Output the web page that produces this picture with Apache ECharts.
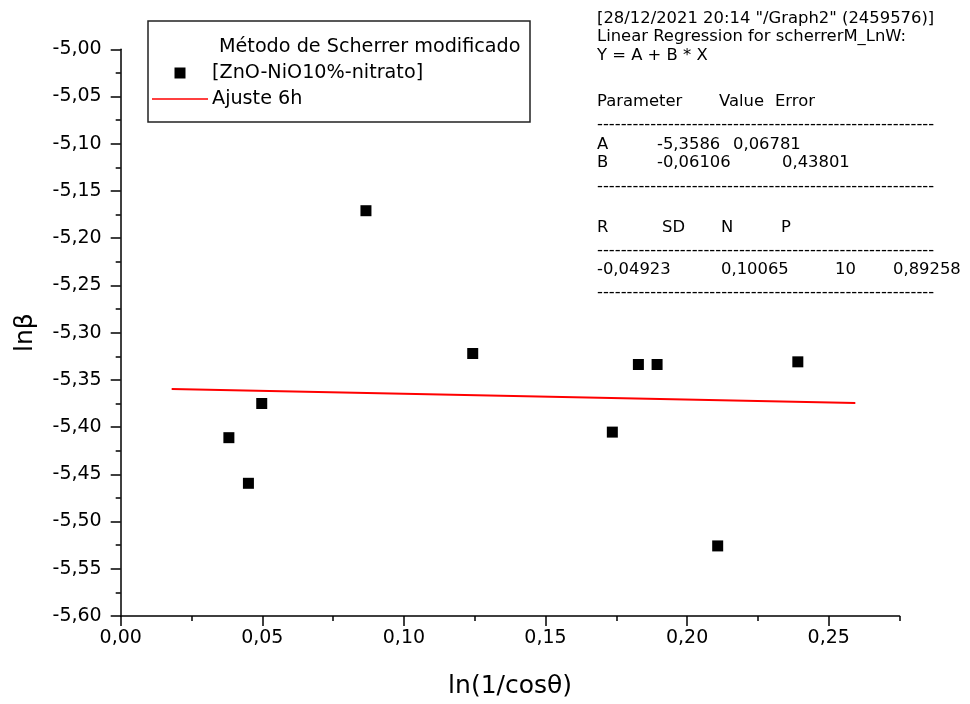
<!DOCTYPE html>
<html>
<head>
<meta charset="utf-8">
<script src="https://cdn.jsdelivr.net/npm/echarts@6/dist/echarts.min.js"></script>
<style>
  html, body { margin: 0; padding: 0; background: #fff; }
  #chart { width: 970px; height: 704px; }
</style>
</head>
<body>
<div id="chart"></div>
<script>
// Measured points: ln(1/cos θ) vs ln β
const xValues = [0.0382, 0.0451, 0.0498, 0.0866, 0.1243, 0.1736, 0.1828, 0.1894, 0.2108, 0.2391];
const yValues = [-5.4112, -5.4595, -5.3750, -5.1709, -5.3221, -5.4053, -5.3337, -5.3337, -5.5258, -5.3309];

// Linear fit Y = A + B * X and the x span it is drawn over
const fitA = -5.3586;
const fitB = -0.06106;
const fitXRange = [0.018, 0.2594];

// Axis ticks
const xMajorTicks = [0, 0.05, 0.10, 0.15, 0.20, 0.25];
const xMinorTicks = [0.025, 0.075, 0.125, 0.175, 0.225, 0.275];

// Legend texts
const legendTitle = 'Método de Scherrer modificado';
const seriesName = '[ZnO-NiO10%-nitrato]';
const fitName = 'Ajuste 6h';

// Regression report
const reportHead = ['[28/12/2021 20:14 "/Graph2" (2459576)]', 'Linear Regression for scherrerM_LnW:', 'Y = A + B * X'];
const paramHeader = ['Parameter', 'Value', 'Error'];
const paramErrors = ['0,06781', '0,43801'];
const statHeader = ['R', 'SD', 'N', 'P'];
const statValues = ['-0,04923', '0,10065', '10', '0,89258'];

const FONT = '"DejaVu Sans", "Liberation Sans", Arial, sans-serif';
const comma = (v, d) => v.toFixed(d).replace('.', ',');

const fitData = fitXRange.map(x => [x, fitA + fitB * x]);
const pointData = xValues.map((x, i) => [x, yValues[i]]);

// Report layout
const RX = 597;
const DASHES = '-'.repeat(57);
const report = [];
const txt = (s, x, y) => report.push({
  type: 'text', x: x, y: y, z: 20,
  style: { text: s, fill: '#000', font: '16.4px ' + FONT, textVerticalAlign: 'middle' }
});
reportHead.forEach((s, i) => txt(s, RX, [19, 37, 56][i]));
paramHeader.forEach((s, i) => txt(s, [597, 719, 775][i], 102));
txt(DASHES, RX, 125);
txt('A', 597, 145); txt(comma(fitA, 4), 657, 145); txt(paramErrors[0], 733, 145);
txt('B', 597, 163); txt(comma(fitB, 5), 657, 163); txt(paramErrors[1], 782, 163);
txt(DASHES, RX, 187);
statHeader.forEach((s, i) => txt(s, [597, 662, 721, 781][i], 228));
txt(DASHES, RX, 251);
statValues.forEach((s, i) => txt(s, [597, 721, 835, 893][i], 270));
txt(DASHES, RX, 293);

// Legend box
const legendGraphics = [
  { type: 'rect', z: 20, shape: { x: 148, y: 21, width: 382, height: 101 },
    style: { fill: '#fff', stroke: '#222', lineWidth: 1.5 } },
  { type: 'text', z: 21, x: 219, y: 47,
    style: { text: legendTitle, fill: '#000', font: '19.2px ' + FONT, textVerticalAlign: 'middle' } },
  { type: 'rect', z: 21, shape: { x: 174.5, y: 67.5, width: 11, height: 11 },
    style: { fill: '#000' } },
  { type: 'text', z: 21, x: 212, y: 73,
    style: { text: seriesName, fill: '#000', font: '19.2px ' + FONT, textVerticalAlign: 'middle' } },
  { type: 'line', z: 21, shape: { x1: 152, y1: 99, x2: 208, y2: 99 },
    style: { stroke: '#ff0000', lineWidth: 1.5 } },
  { type: 'text', z: 21, x: 212, y: 99,
    style: { text: fitName, fill: '#000', font: '19.2px ' + FONT, textVerticalAlign: 'middle' } }
];

const axisLineStyle = { color: '#000', width: 1.5 };

const chart = echarts.init(document.getElementById('chart'), null, { renderer: 'canvas' });
chart.setOption({
  animation: false,
  backgroundColor: '#fff',
  grid: { left: 120.7, right: 70.5, top: 49.3, bottom: 87, containLabel: false },
  xAxis: [
    {
      type: 'value', min: 0, max: 0.275, interval: 0.05, position: 'bottom',
      axisLine: { show: true, onZero: false, lineStyle: axisLineStyle },
      axisTick: { show: true, inside: false, length: 10, customValues: xMajorTicks, lineStyle: axisLineStyle },
      axisLabel: { customValues: xMajorTicks, formatter: v => comma(v, 2), fontSize: 19, fontFamily: FONT, color: '#000', margin: 13 },
      splitLine: { show: false },
      name: 'ln(1/cosθ)', nameLocation: 'middle', nameGap: 58,
      nameTextStyle: { fontSize: 25, fontFamily: FONT, color: '#000' }
    },
    {
      type: 'value', min: 0, max: 0.275, position: 'bottom',
      axisLine: { show: false },
      axisTick: { show: true, inside: false, length: 5, customValues: xMinorTicks, lineStyle: axisLineStyle },
      axisLabel: { show: false },
      splitLine: { show: false }
    }
  ],
  yAxis: {
    type: 'value', min: -5.6, max: -5.0, interval: 0.05,
    axisLine: { show: true, onZero: false, lineStyle: axisLineStyle },
    axisTick: { show: true, inside: false, length: 10, lineStyle: axisLineStyle },
    minorTick: { show: true, splitNumber: 2, length: 5, lineStyle: axisLineStyle },
    axisLabel: { formatter: v => comma(v, 2), fontSize: 19, fontFamily: FONT, color: '#000', margin: 19 },
    splitLine: { show: false },
    minorSplitLine: { show: false },
    name: 'lnβ', nameLocation: 'middle', nameRotate: 90, nameGap: 83,
    nameTextStyle: { fontSize: 25, fontFamily: FONT, color: '#000' }
  },
  series: [
    {
      name: seriesName, type: 'scatter', xAxisIndex: 0, data: pointData,
      symbol: 'rect', symbolSize: 11, itemStyle: { color: '#000', opacity: 1 }, z: 5
    },
    {
      name: fitName, type: 'line', xAxisIndex: 0, data: fitData,
      showSymbol: false, symbol: 'none', lineStyle: { color: '#ff0000', width: 2 }, z: 4
    }
  ],
  graphic: report.concat(legendGraphics)
});
</script>
</body>
</html>
